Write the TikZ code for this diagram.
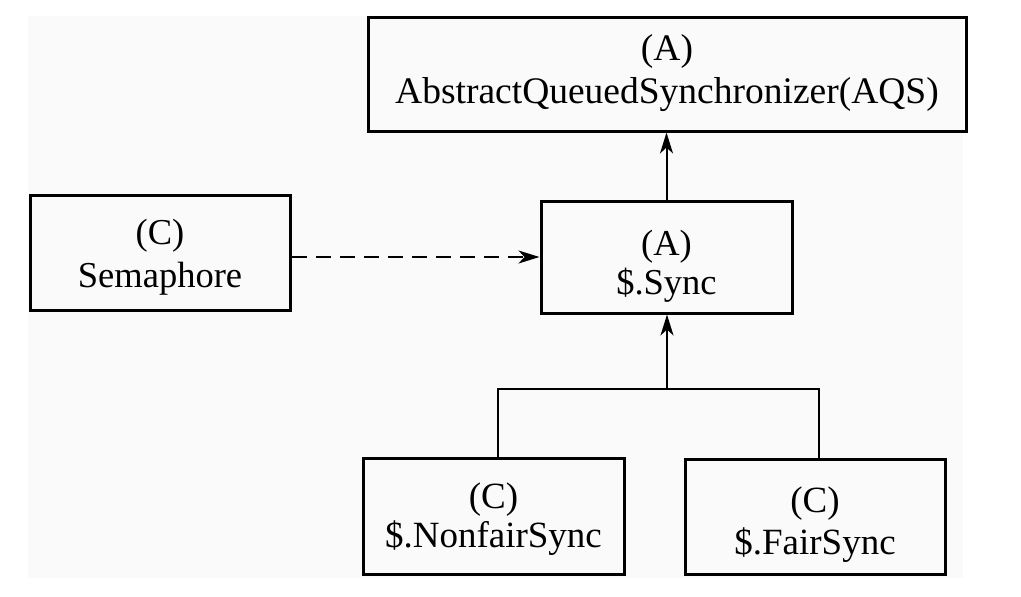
\documentclass[tikz,border=0pt]{standalone}
\usepackage{fontspec}
\setmainfont{Liberation Serif}
\usetikzlibrary{arrows.meta}

\newcommand{\clsfont}[2]{\fontsize{#1}{#2}\selectfont}

\tikzset{
  cls/.style={draw, line width=3pt, inner sep=0pt},
  txt/.style={align=center, inner sep=0pt},
  link/.style={line width=2pt},
  tip/.style={-{Stealth[length=21pt,width=13pt,inset=6pt]}}
}

\begin{document}
\begin{tikzpicture}[x=1pt,y=-1pt]
 \useasboundingbox (0,0) rectangle (1021,597);
 \fill [black!2] (28,16) rectangle (963,578);
 \node [cls, minimum width=598pt, minimum height=114pt,
   label={[txt, font={\clsfont{37.5}{43.5}}, yshift=1pt]center:{(A)\\AbstractQueuedSynchronizer(AQS)}}] (aqs) at (667,74) {};
 \node [cls, minimum width=260pt, minimum height=115pt,
   label={[txt, font={\clsfont{36.5}{43}}, yshift=-5pt]center:{(C)\\Semaphore}}] (sema) at (160,252.5) {};
 \node [cls, minimum width=251pt, minimum height=112pt,
   label={[txt, font={\clsfont{36.5}{39}}, yshift=-9pt]center:{(A)\\\$.Sync}}] (sync) at (666.5,257) {};
 \node [cls, minimum width=261pt, minimum height=116pt,
   label={[txt, font={\clsfont{37}{39}}, yshift=-3pt]center:{(C)\\\$.NonfairSync}}] (nfair) at (493.5,516) {};
 \node [cls, minimum width=260pt, minimum height=115pt,
   label={[txt, font={\clsfont{37}{42}}, yshift=-8pt]center:{(C)\\\$.FairSync}}] (fair) at (815,516.5) {};
 \coordinate (fork) at (667,389);
 \draw [link, tip] (sync.north) -- (sync.north |- aqs.south);
 \draw [link, tip, dash pattern=on 15pt off 9pt] (sema.east |- sync.west) -- (sync.west);
 \draw [link] ([xshift=4.5pt]nfair.north) |- (fork) -| ([xshift=4pt]fair.north);
 \draw [link, tip] (fork) -- (fork |- sync.south);
\end{tikzpicture}
\end{document}
